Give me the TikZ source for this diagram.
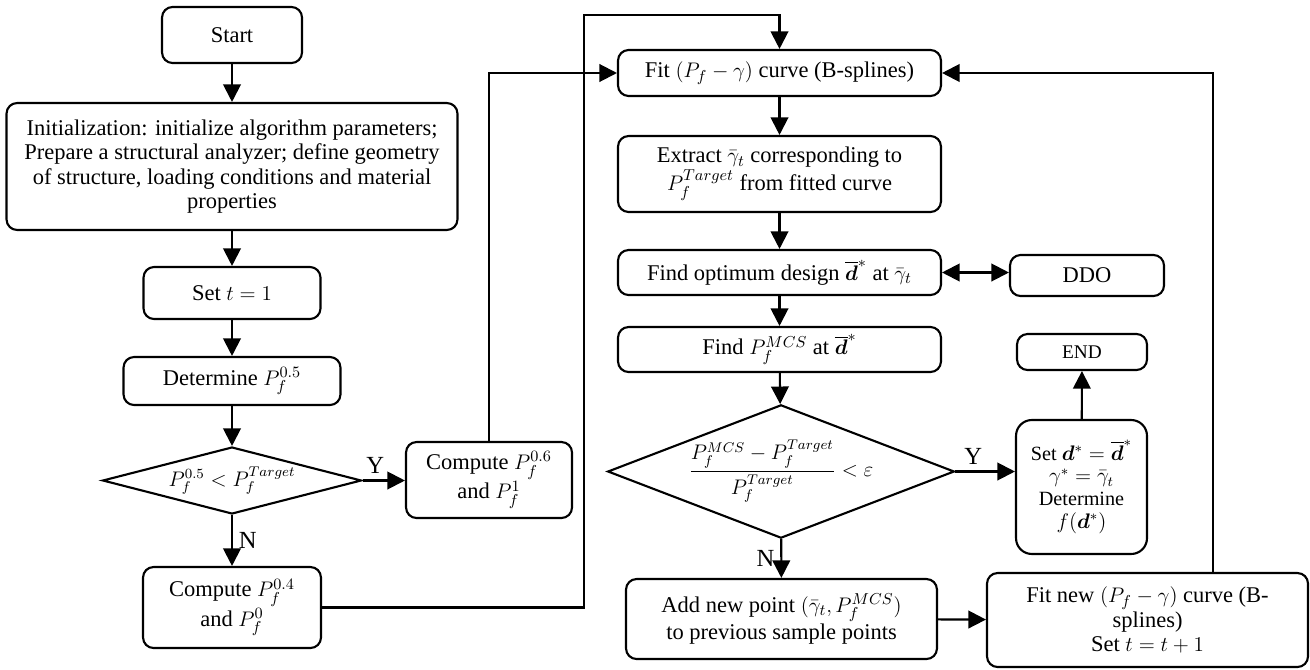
\documentclass[tikz,border=0pt]{standalone}
\usepackage{fontspec}
\setmainfont{Liberation Serif}
\usepackage{amsmath}
\usepackage{bm}
\usetikzlibrary{arrows.meta,shapes.geometric}

\newcommand{\dopt}{\overline{\bm{d}}^{*}}
\newcommand{\gbar}{\bar{\gamma}_t}

\tikzset{
	blk/.style={draw, line width=1.2pt, rounded corners=6pt, align=center, inner sep=2pt, font=\fontsize{12.8}{14}\selectfont},
	dec/.style={draw, line width=1.2pt, diamond, inner sep=0pt, align=center},
	arr/.style={line width=1.2pt, -{Triangle[length=10pt,width=10pt]}},
	lbl/.style={font=\fontsize{14}{14}\selectfont},
}

\begin{document}
\begin{tikzpicture}[x=0.02cm, y=-0.02cm]
	\useasboundingbox (0,0) rectangle (1310,669);
	% left column
	\node[blk, minimum width=2.8cm, minimum height=1.12cm] (start) at (232,35) {Start};
	\node[blk, minimum width=9.02cm, minimum height=2.54cm] (init) at (232,166.5) {Initialization: initialize algorithm parameters;\\Prepare a structural analyzer; define geometry\\of structure, loading conditions and material\\properties};
	\node[blk, minimum width=3.54cm, minimum height=1.04cm] (sett) at (232,293) {Set $t=1$};
	\node[blk, minimum width=4.34cm, minimum height=0.96cm] (det) at (232,381) {Determine $P_f^{0.5}$};
	\node[dec, minimum width=5.18cm, minimum height=1.34cm, aspect=3.87, font=\fontsize{12}{13}\selectfont] (chk) at (232,480.5) {$P_f^{0.5} < P_f^{Target}$};
	\node[blk, minimum width=3.32cm, minimum height=1.52cm] (hi) at (489,480) {Compute $P_f^{0.6}$\\and $P_f^{1}$};
	\node[blk, minimum width=3.56cm, minimum height=1.62cm] (lo) at (232,607.5) {Compute $P_f^{0.4}$\\and $P_f^{0}$};
	% middle column
	\node[blk, minimum width=6.46cm, minimum height=0.92cm] (fit) at (779.5,73) {Fit $(P_f-\gamma)$ curve (B-splines)};
	\node[blk, minimum width=6.46cm, minimum height=1.52cm] (ext) at (779.5,174) {Extract $\gbar$ corresponding to\\$P_f^{Target}$ from fitted curve};
	\node[blk, minimum width=6.46cm, minimum height=0.9cm] (opt) at (779.5,272.5) {Find optimum design $\dopt$ at $\gbar$};
	\node[blk, minimum width=6.46cm, minimum height=0.9cm] (mcs) at (779.5,349.5) {Find $P_f^{MCS}$ at $\dopt$};
	\node[dec, minimum width=6.8cm, minimum height=2.62cm, aspect=2.6, font=\fontsize{11.5}{13}\selectfont] (conv) at (781,471.5) {$\dfrac{P_f^{MCS}-P_f^{Target}}{P_f^{Target}} < \varepsilon$};
	\node[blk, minimum width=6.22cm, minimum height=1.6cm] (add) at (781.5,619) {Add new point $(\gbar, P_f^{MCS})$\\to previous sample points};
	% right column
	\node[blk, minimum width=3.08cm, minimum height=0.82cm] (ddo) at (1087,275.5) {DDO};
	\node[blk, minimum width=2.6cm, minimum height=0.72cm, font=\fontsize{11}{12}\selectfont] (fin) at (1082,352) {END};
	\node[blk, minimum width=2.62cm, minimum height=2.68cm, rounded corners=9pt, font=\fontsize{11.5}{13}\selectfont] (res) at (1081.5,487) {Set $\bm{d}^{*}=\dopt$\\$\gamma^{*}=\gbar$\\Determine\\$f(\bm{d}^{*})$};
	\node[blk, minimum width=6.42cm, minimum height=1.88cm] (refit) at (1147.5,620) {Fit new $(P_f-\gamma)$ curve (B-\\splines)\\Set $t=t+1$};
	\coordinate (up) at (584,15);
	\coordinate (back) at (1213,73);
	% connectors
	\draw[arr] (start) -- (init);
	\draw[arr] (init) -- (sett);
	\draw[arr] (sett) -- (det);
	\draw[arr] (det) -- (chk);
	\draw[arr] (chk.east) -- node[lbl, above, pos=0.3] {Y} (chk.east -| hi.west);
	\draw[arr] (chk) -- node[lbl, right] {N} (lo);
	\draw[arr] (hi.north) |- (fit.west);
	\draw[arr] (lo.east) -| (up) -| (fit.north);
	\draw[arr] (fit) -- (ext);
	\draw[arr] (ext) -- (opt);
	\draw[arr] (opt) -- (mcs);
	\draw[arr] (mcs) -- (conv);
	\draw[line width=1.2pt, {Triangle[length=10pt,width=10pt]}-{Triangle[length=10pt,width=10pt]}] (opt.east) -- (opt.east -| ddo.west);
	\draw[arr] (conv.east) -- node[lbl, above, pos=0.3] {Y} (conv.east -| res.west);
	\draw[arr] (res) -- (fin);
	\draw[arr] (conv) -- node[lbl, left] {N} (add);
	\draw[arr] (add) -- (refit);
	\draw[arr] (refit.north -| back) |- (fit.east);
\end{tikzpicture}
\end{document}
